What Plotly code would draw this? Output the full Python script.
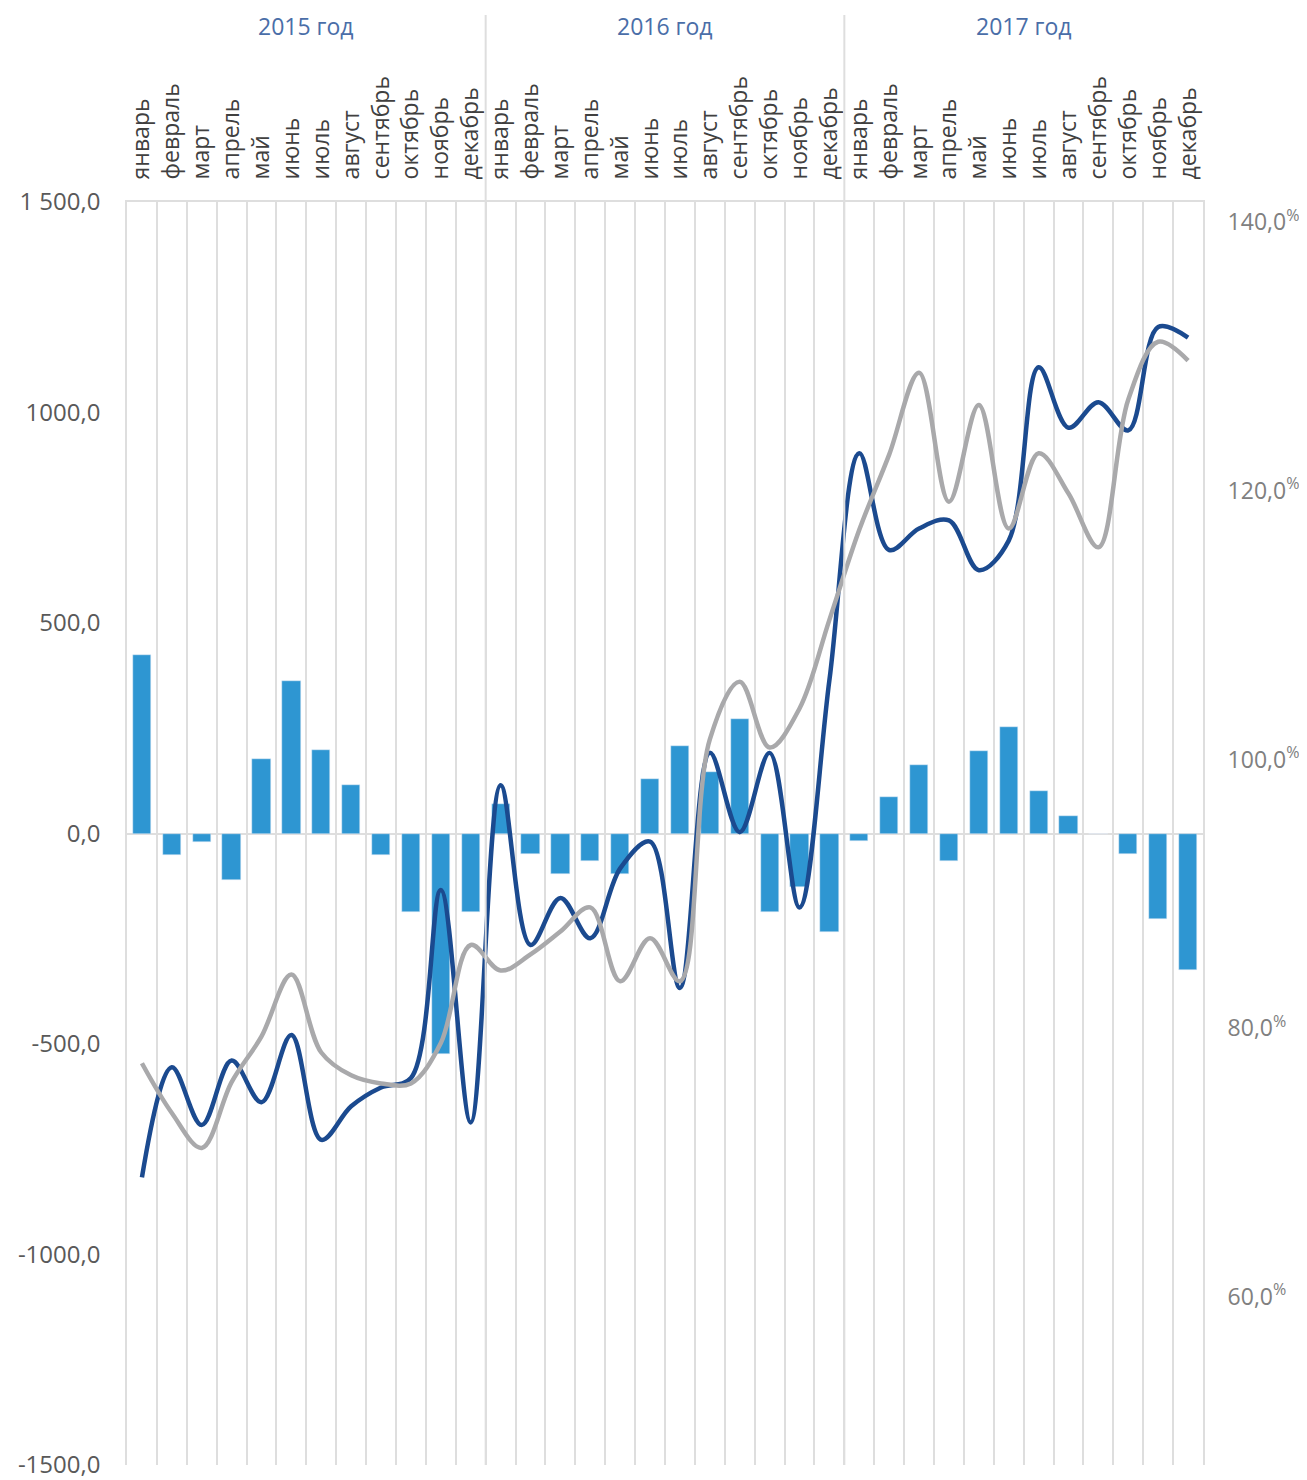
import plotly.graph_objects as go

MONTHS = ["январь", "февраль", "март", "апрель", "май", "июнь",
          "июль", "август", "сентябрь", "октябрь", "ноябрь", "декабрь"]
YEARS = ["2015 год", "2016 год", "2017 год"]

# monthly balance, left axis
BARS = [425, -50, -20, -111, 178, 363, 199, 116, -50, -187, -523, -187,
        71, -48, -96, -65, -96, 130, 209, 147, 271, -187, -127, -234,
        -17, 86, 162, -66, 195, 254, 100, 41, 0, -49, -204, -324]

# ratios, right axis (%)
DARK = [68.9, 77.1, 72.8, 77.6, 74.5, 79.5, 71.7, 74.2, 75.6, 76.3, 90.3, 73.0,
        98.1, 86.2, 89.7, 86.7, 91.9, 93.9, 83.0, 100.5, 94.6, 100.5, 89.0, 105.9,
        122.8, 115.6, 117.2, 117.8, 114.1, 116.3, 129.2, 124.7, 126.6, 124.5, 132.2, 131.4]
GREY = [77.4, 73.7, 71.1, 76.0, 79.4, 84.0, 78.2, 76.5, 75.9, 75.9, 78.9, 86.2,
        84.3, 85.5, 87.2, 89.0, 83.5, 86.7, 83.5, 101.5, 105.8, 100.9, 103.8, 110.4,
        117.1, 122.7, 128.8, 119.2, 126.4, 117.2, 122.8, 119.8, 115.8, 126.8, 131.1, 129.7]

LEFT_TICKS = [1500, 1000, 500, 0, -500, -1000, -1500]
LEFT_TEXT = ["1 500,0", "1000,0", "500,0", "0,0", "-500,0", "-1000,0", "-1500,0"]
RIGHT_TICKS = [140, 120, 100, 80, 60]

_BAR = "#2e96d2"
_DARK = "#1b4a8f"
_GREY = "#a9a9ab"
_GRID = "#dedede"
_FONT = "Open Sans"

x = list(range(len(BARS)))
labels = [m for _ in YEARS for m in MONTHS]

fig = go.Figure()
fig.add_trace(go.Bar(x=x, y=BARS, marker_color=_BAR, width=0.61, yaxis="y"))
fig.add_trace(go.Scatter(x=x, y=DARK, mode="lines", yaxis="y2",
                         line=dict(color=_DARK, width=4.5, shape="spline", smoothing=1)))
fig.add_trace(go.Scatter(x=x, y=GREY, mode="lines", yaxis="y2",
                         line=dict(color=_GREY, width=4.5, shape="spline", smoothing=1)))

# page body adds an 8px offset, so the figure is drawn 8px smaller
top = 1 + (202 - 15) / 1263
for i, yr in enumerate(YEARS):
    fig.add_annotation(x=i * 12 + 5.5, y=1 + (202 - 26) / 1263, xref="x", yref="paper",
                       text=yr, showarrow=False, yanchor="middle",
                       font=dict(family=_FONT, size=23, color="#4a6ea8"))
    if i:
        fig.add_shape(type="line", x0=i * 12 - 0.5, x1=i * 12 - 0.5, y0=0, y1=top,
                      xref="x", yref="paper", line=dict(color=_GRID, width=2))

fig.update_layout(
    width=1299, height=1472, showlegend=False, bargap=0,
    margin=dict(l=119, r=104, t=194, b=15, autoexpand=False),
    paper_bgcolor="white", plot_bgcolor="white",
    xaxis=dict(
        side="top", range=[-0.5, 35.5], tickvals=x, ticktext=labels, tickangle=-90,
        ticks="outside", ticklen=16, tickcolor="rgba(0,0,0,0)",
        tickfont=dict(family=_FONT, size=23, color="#404040"),
        showgrid=False, showline=True, linecolor=_GRID, linewidth=2, mirror=False,
        minor=dict(tick0=-0.5, dtick=1, showgrid=True, gridcolor=_GRID, gridwidth=1.5),
        zeroline=False, automargin=False,
    ),
    yaxis=dict(
        range=[-1500, 1500], tickvals=LEFT_TICKS, ticktext=LEFT_TEXT,
        ticks="outside", ticklen=20, tickcolor="rgba(0,0,0,0)",
        tickfont=dict(family=_FONT, size=24, color="#595959"),
        ticklabeloverflow="allow",
        showgrid=False, zeroline=True, zerolinecolor=_GRID, zerolinewidth=2,
        showline=True, mirror=True, linecolor=_GRID, linewidth=1.5, automargin=False,
    ),
    yaxis2=dict(
        overlaying="y", side="right", range=[47.5, 141.5], tickvals=RIGHT_TICKS,
        ticktext=[f"{v},0<sup>%</sup>" for v in RIGHT_TICKS],
        ticks="outside", ticklen=19, tickcolor="rgba(0,0,0,0)",
        tickfont=dict(family=_FONT, size=23, color="#808080"),
        ticklabeloverflow="allow",
        showgrid=False, zeroline=False, automargin=False,
    ),
)

fig.write_html("out.html")
